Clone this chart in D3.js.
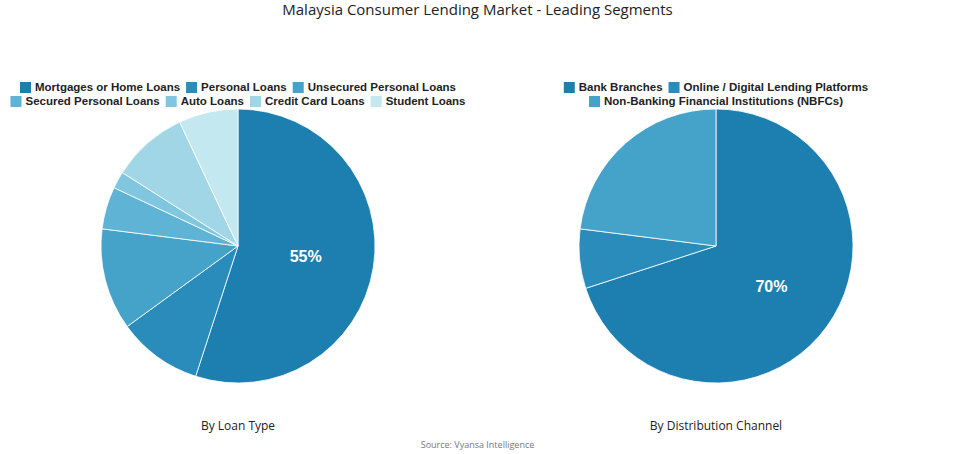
<!DOCTYPE html>
<html><head><meta charset="utf-8">
<script src="https://cdn.jsdelivr.net/npm/d3@7"></script>
<style>body{margin:0;background:#fff;font-family:"Open Sans",sans-serif}</style>
</head><body><div id="chart"></div>
<script>
// Chart data
const loanTypes = ["Mortgages or Home Loans", "Personal Loans", "Unsecured Personal Loans",
  "Secured Personal Loans", "Auto Loans", "Credit Card Loans", "Student Loans"];
const loanShares = [55, 10, 12, 5, 2, 9, 7];
const channels = ["Bank Branches", "Online / Digital Lending Platforms", "Non-Banking Financial Institutions (NBFCs)"];
const channelShares = [70, 7, 23];
const palette = ["#1d7fb0", "#2a8cbb", "#45a2c8", "#5fb3d4", "#80c6de", "#a0d6e6", "#c4e8ef"];

const W = 955, H = 454;
const svg = d3.select("#chart").append("svg").attr("width", W).attr("height", H);

svg.append("text").attr("x", W / 2).attr("y", 15).attr("text-anchor", "middle")
  .attr("font-size", 15).attr("fill", "#222").text("Malaysia Consumer Lending Market - Leading Segments");
svg.append("text").attr("x", W / 2).attr("y", 448).attr("text-anchor", "middle")
  .attr("font-size", 9).attr("fill", "#777").text("Source: Vyansa Intelligence");

// Draw one pie with legend rows and caption
function drawPie(cx, cy, labels, values, rows, caption) {
  const color = d3.scaleOrdinal().domain(labels).range(palette);
  const pie = d3.pie().sort(null).value(d => d.v);
  const arc = d3.arc().innerRadius(0).outerRadius(137);
  const arcs = pie(labels.map((l, i) => ({ l, v: values[i] })));
  const g = svg.append("g").attr("transform", `translate(${cx},${cy})`);
  g.selectAll("path").data(arcs).enter().append("path")
    .attr("d", arc).attr("fill", d => color(d.data.l))
    .attr("stroke", "#fff").attr("stroke-width", 0.8);
  const lab = arc.centroid(arcs[0]);
  g.append("text").attr("x", lab[0]).attr("y", lab[1]).attr("text-anchor", "middle")
    .attr("dy", "0.35em").attr("font-size", 16).attr("font-weight", "bold").attr("fill", "#fff")
    .attr("font-family", "Liberation Sans, Arial, sans-serif")
    .text(values[0] + "%");
  svg.append("text").attr("x", cx).attr("y", 430).attr("text-anchor", "middle")
    .attr("font-size", 12).attr("fill", "#222").text(caption);

  // legend rows, centered
  rows.forEach((row, r) => {
    const lg = svg.append("g");
    let x = 0;
    row.forEach(i => {
      const item = lg.append("g").attr("transform", `translate(${x},0)`);
      item.append("rect").attr("width", 11).attr("height", 11).attr("y", -9).attr("fill", color(labels[i]));
      const t = item.append("text").attr("x", 15).attr("font-size", 11.5).attr("font-weight", "bold")
        .attr("font-family", "Liberation Sans, Arial, sans-serif")
        .attr("fill", "#222").text(labels[i]);
      x += 15 + t.node().getComputedTextLength() + 6;
    });
    lg.attr("transform", `translate(${cx - (x - 6) / 2},${91 + r * 14})`);
  });
}

drawPie(238, 246, loanTypes, loanShares, [[0, 1, 2], [3, 4, 5, 6]], "By Loan Type");
drawPie(716, 246, channels, channelShares, [[0, 1], [2]], "By Distribution Channel");
</script></body></html>
